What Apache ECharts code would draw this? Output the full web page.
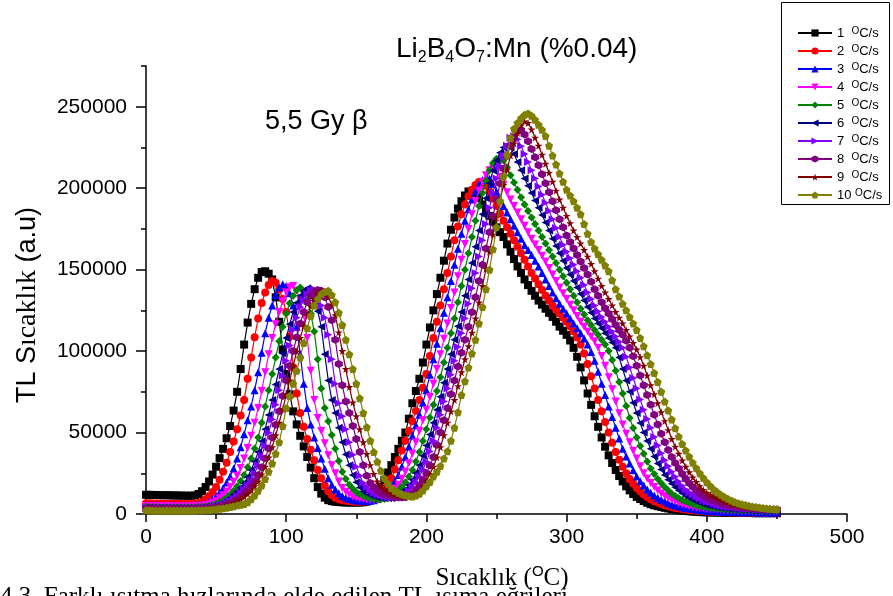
<!DOCTYPE html>
<html>
<head>
<meta charset="utf-8">
<script src="https://cdn.jsdelivr.net/npm/echarts@6/dist/echarts.min.js"></script>
<style>
  html, body { margin: 0; padding: 0; background: #fff; }
  #chart { width: 893px; height: 596px; }
</style>
</head>
<body>
<div id="chart"></div>
<script>
// Temperature sampling grid: 0 … 450 °C every 2.5 °C
const temps = Array.from({ length: 181 }, (_, i) => i * 2.5);

// TL intensity (a.u) for each heating rate, one value per grid step
const tl_1 = [
  11800,11750,11700,11650,11600,11550,11500,11450,11400,11350,11300,11250,11200,11250,11400,12300,14000,16600,20000,24200,
  29000,34300,40000,46500,54000,63500,75000,89000,104000,117500,129000,138000,145000,148500,149000,147500,144000,133000,118000,101000,
  86000,73500,63000,55000,48000,41500,35000,28500,22000,16500,12500,10000,8500,7900,7500,7300,7200,7100,7000,7000,
  7000,7050,7200,7600,8500,10300,13000,16700,21000,25500,30000,35000,40000,45000,50000,58500,68000,75500,83000,93000,
  104000,114500,125000,135000,145000,155500,166000,174500,182000,187500,192000,195500,198000,198300,197000,194000,190000,186500,183000,179500,
  176000,173000,170000,165500,161000,156500,152000,148000,144000,140500,137000,134000,131000,128500,126000,123500,121000,118000,115000,112500,
  110000,106500,102000,96500,90000,82000,74000,67000,60000,53500,47000,41300,36000,31300,27000,23300,20000,17000,14500,12300,
  10500,9200,8000,6900,6000,5300,4800,4300,3800,3400,3000,2700,2400,2100,1900,1700,1500,1350,1200,1100,
  1000,950,900,850,800,750,700,700,700,650,600,600,600,550,500,500,500,500,500,500,
  500];
const tl_2 = [
  6600,6550,6500,6450,6400,6350,6300,6300,6300,6250,6200,6200,6200,6200,6300,6700,7500,9000,11000,13500,
  16500,21000,26000,31500,38000,44500,52000,60500,70000,83000,96000,108500,120000,129500,136000,140500,143000,142000,138000,132000,
  124000,109000,90000,74000,62000,53500,46000,39500,33000,27000,22000,17500,14000,11700,10000,9100,8500,8100,7800,7600,
  7500,7500,7600,7900,8500,9500,11000,13300,16000,18800,22000,27300,33000,39000,45000,51000,57000,63300,70000,77500,
  86000,97000,108000,118000,128000,138000,148000,158000,168000,176500,184000,190000,195000,199000,202000,203800,204000,201500,198000,193500,
  189000,184500,180000,176000,172000,168000,164000,160000,156000,152000,148000,144500,141000,137500,134000,131000,128000,125500,123000,120500,
  118000,115200,112000,108300,104000,98500,92000,84500,77000,70000,63000,56500,50000,43800,38000,33300,29000,25000,21500,18500,
  16000,13900,12000,10400,9000,7900,7000,6100,5300,4700,4200,3700,3300,3000,2700,2400,2200,2000,1800,1650,
  1500,1400,1300,1200,1100,1050,1000,950,900,850,800,800,800,750,700,700,700,700,700,700,
  700];
const tl_3 = [
  5600,5550,5500,5450,5400,5350,5300,5300,5300,5250,5200,5200,5200,5200,5300,5500,5800,6500,7500,9100,
  11000,13300,16000,19300,23000,28000,34000,41000,49000,57500,66000,76000,87000,99000,111000,120500,128000,134500,139000,141000,
  140000,135500,128000,115000,98000,80000,65000,55000,47000,40500,34000,27800,22000,18000,15000,12700,11000,9900,9200,8700,
  8400,8200,8000,8000,8100,8500,9300,10700,12500,14600,17000,20300,24000,29200,35000,41500,48000,54500,61000,68300,
  76000,85500,95000,104500,114000,123500,133000,143000,153000,162800,172000,180000,187000,193000,198000,202000,205000,206500,206000,202500,
  198000,193500,189000,185000,181000,177000,173000,169000,165000,162000,159000,155500,152000,148000,144000,140000,136000,132500,129000,126000,
  123000,120000,117000,114000,111000,107800,104000,99500,94000,87300,80000,73000,66000,59500,53000,46300,40000,35300,31000,26800,
  23000,20100,17500,15100,13000,11400,10000,8800,7800,6800,5900,5200,4700,4200,3700,3300,3000,2700,2400,2200,
  2000,1850,1700,1600,1500,1400,1300,1250,1200,1150,1100,1050,1000,1000,1000,950,900,900,900,900,
  900];
const tl_4 = [
  4900,4850,4800,4750,4700,4700,4700,4650,4600,4600,4600,4600,4600,4600,4700,4800,5000,5400,6000,6900,
  8000,9600,11500,13800,16500,19800,23500,28300,34000,40500,48000,56000,65000,75500,87000,98000,108000,116500,124000,130500,
  136000,139200,140000,137000,131000,122000,108000,88000,70000,59000,51000,43500,36000,30000,25000,20000,16000,13700,12000,10800,
  10000,9400,9000,8700,8600,8500,8600,9100,10000,11500,13500,15600,18000,21700,26000,31200,37000,44000,51000,57500,
  64000,71800,80000,89000,98000,107500,117000,126500,136000,146000,156000,165800,175000,184000,192000,198500,204000,208000,211000,212300,
  211000,206800,202000,197500,193000,189000,185000,181000,177000,173000,169000,165500,162000,158500,155000,151000,147000,143000,139000,135500,
  132000,128500,125000,121500,118000,115000,112000,109000,106000,102000,97000,91000,84000,76500,69000,61800,55000,49300,44000,38800,
  34000,29300,25000,21800,19000,16600,14500,12600,11000,9800,8700,7700,6800,6000,5300,4800,4300,3900,3600,3300,
  3100,2950,2800,2650,2500,2350,2200,2100,2000,1900,1800,1750,1700,1650,1600,1550,1500,1450,1400,1400,
  1400];
const tl_5 = [
  4400,4350,4300,4250,4200,4200,4200,4150,4100,4100,4100,4100,4100,4100,4200,4300,4400,4650,5000,5600,
  6300,7300,8500,10100,12000,14300,17000,20200,24000,28700,34000,40200,47000,56000,66000,76000,86000,96000,106000,115000,
  123000,129300,134000,137300,139000,136500,131000,123000,112000,95000,77000,65000,57000,48500,40000,32500,26000,21500,18000,15500,
  13500,12100,11000,10300,9800,9400,9100,9050,9200,9900,11000,12600,14500,16800,19500,23000,27000,32200,38000,44800,
  52000,59300,67000,75500,84000,93000,102000,111000,120000,130000,140000,150000,160000,170000,180000,189000,197000,204500,211000,215500,
  218000,218500,217000,212800,208000,203500,199000,194500,190000,186000,182000,178000,174000,170000,166000,162000,158000,154000,150000,146000,
  142000,138000,134000,130000,126000,122400,119000,116000,113000,110000,107000,104000,100000,94500,88000,81000,74000,66300,59000,52800,
  47000,41800,37000,32300,28000,24500,21500,18900,16500,14400,12500,11000,9600,8600,7700,6800,6100,5400,4800,4400,
  4100,3850,3600,3350,3100,2950,2800,2650,2500,2400,2300,2200,2100,2050,2000,1950,1900,1850,1800,1800,
  1800];
const tl_6 = [
  4000,3950,3900,3850,3800,3800,3800,3750,3700,3700,3700,3700,3700,3700,3800,3900,4000,4200,4500,4950,
  5500,6300,7200,8500,10000,11900,14000,16300,19000,22700,27000,32200,38000,44700,52000,60800,70000,79500,89000,98500,
  108000,116500,124000,129700,134000,137000,138500,136000,131000,124500,115000,98000,82000,70000,62000,53000,44000,36500,30000,24000,
  19500,16300,14000,12600,11500,10800,10300,9900,9700,9600,9600,10300,11500,13000,15000,17800,21000,25200,30000,35800,
  42000,48800,56000,64000,72000,80500,89000,98000,107000,115300,124000,134000,144000,154000,164000,174000,184000,193800,203000,210800,
  217000,221800,225000,226500,225000,221000,216000,211000,206000,201500,197000,192500,188000,183500,179000,174000,169000,164500,160000,155500,
  151000,147000,143000,139000,135000,131000,127000,123500,120000,117000,114000,111000,108000,105200,102000,96000,89000,82000,75000,68300,
  62000,55800,50000,44800,40000,35300,31000,27300,24000,21100,18500,16400,14500,12700,11000,9800,8800,7900,7000,6200,
  5500,5000,4600,4200,3900,3650,3400,3200,3000,2850,2700,2550,2400,2350,2300,2250,2200,2150,2100,2050,
  2000];
const tl_7 = [
  3700,3650,3600,3550,3500,3500,3500,3450,3400,3400,3400,3400,3400,3400,3500,3600,3700,3800,4000,4350,
  4800,5350,6000,6900,8000,9400,11000,12900,15000,17500,20500,25000,30000,35800,42000,49800,58000,67000,76000,85000,
  94000,103500,113000,120500,127000,131500,135000,137300,138000,134500,128000,120500,110000,95000,80000,68000,60000,52000,44000,36300,
  29000,23500,19000,16500,14500,13100,12000,11300,10800,10400,10200,10100,10200,11100,12500,14300,16500,19500,23000,27300,
  32000,38300,45000,53000,61000,69000,77000,85500,94000,102500,111000,120000,129000,138500,148000,158000,168000,178000,188000,197300,
  206000,213500,220000,226000,231000,231800,230000,225800,221000,216000,211000,206000,201000,196000,191000,186000,181000,175500,170000,165300,
  161000,157000,153000,149000,145000,140500,136000,132000,128000,124300,121000,118000,115000,112000,109000,105800,102000,96500,90000,83500,
  77000,70300,64000,58300,53000,47300,42000,37300,33000,29300,26000,22800,20000,17300,15000,13400,12000,10700,9500,8500,
  7700,7000,6300,5600,5000,4600,4300,4000,3800,3550,3300,3150,3000,2900,2800,2700,2600,2550,2500,2450,
  2400];
const tl_8 = [
  3400,3350,3300,3250,3200,3200,3200,3150,3100,3100,3100,3100,3100,3100,3200,3250,3300,3400,3600,3850,
  4200,4650,5200,5900,6800,7800,9000,10600,12500,14600,17000,20300,24000,28700,34000,40200,47000,54800,63000,72500,
  82000,91000,100000,108500,117000,124000,130000,134000,136500,137500,137000,133000,127000,119000,107000,92000,79000,69000,62000,54000,
  46000,38000,30000,23500,19000,16400,14500,13100,12000,11300,10800,10400,10200,10150,10300,11100,12500,14700,17500,21000,
  25000,29700,35000,42300,50000,57500,65000,73500,82000,90500,99000,107000,115000,123800,133000,143000,153000,163000,173000,183000,
  193000,202800,212000,219800,226000,231200,235000,235700,233000,228800,224000,219000,214000,208500,203000,197500,192000,186500,181000,176000,
  171000,167000,163000,159000,155000,151000,147000,142500,138000,134000,130000,126300,123000,119500,116000,113000,110000,106300,102000,96800,
  91000,85000,79000,73000,67000,61000,55000,49300,44000,39300,35000,31300,28000,24600,21500,18800,16500,14500,12800,11300,
  10000,8900,8000,7300,6600,6000,5400,4950,4600,4300,4000,3800,3600,3450,3300,3150,3000,2900,2800,2750,
  2700];
const tl_9 = [
  3000,2950,2900,2850,2800,2800,2800,2750,2700,2700,2700,2700,2700,2700,2800,2850,2900,3000,3200,3400,
  3700,4050,4500,5100,5800,6700,7800,9100,10500,12300,14500,17100,20000,24300,29000,34700,41000,48300,56000,64300,
  73000,82000,91000,99800,108000,115300,122000,127500,132000,135300,137000,136300,133000,128500,122000,111500,100000,89000,78000,68500,
  60000,52000,44000,36800,30000,24500,20000,17200,15000,13600,12500,11800,11200,10800,10600,10600,11000,12200,14000,16900,
  20500,24500,29000,34700,41000,48300,56000,63000,70000,78500,87000,95000,103000,111300,120000,129800,140000,150500,161000,171500,
  182000,192300,202000,211300,220000,227500,234000,238500,241000,240000,236000,231000,226000,220500,215000,209500,204000,198500,193000,188000,
  183000,178500,174000,170000,166000,162000,158000,153500,149000,144500,140000,136000,132000,128000,124000,120500,117000,113000,109000,105000,
  101000,96300,91000,85000,79000,73500,68000,62500,57000,51500,46000,41300,37000,32800,29000,25600,22500,19600,17000,14800,
  13000,11800,10700,9700,8700,7800,7000,6400,5800,5300,4800,4400,4100,3850,3600,3400,3200,3100,3000,2950,
  2900];
const tl_10 = [
  2300,2250,2200,2200,2200,2150,2100,2100,2100,2100,2100,2100,2100,2150,2200,2250,2300,2400,2500,2700,
  2900,3200,3500,3900,4300,4800,5300,5700,6200,7200,9000,11400,14300,17500,21500,26000,31000,37000,44000,54000,
  65000,72500,80000,88000,96000,105000,114000,121500,128000,132000,135000,136500,137000,134500,130000,123500,116000,107000,98000,89000,
  80000,71000,62000,53300,45000,38000,32000,26500,22000,18700,16000,14300,13000,12100,11500,11000,10800,11300,12500,14500,
  17000,19700,23000,26000,29500,34000,38500,45000,53000,62500,73000,81500,90000,98500,107000,117000,127000,138000,150000,162500,
  176000,192000,207000,220500,231000,236500,240000,243000,245000,245800,244500,242000,239000,235800,232000,226000,220000,214500,209000,204000,
  199000,195500,192000,188000,184000,178000,172000,167000,163000,159500,156000,152500,149000,143500,138000,133500,129000,125000,121000,117000,
  113000,108000,103000,97500,92000,86500,81000,75000,69000,63500,58000,52700,47500,43000,39000,35200,31500,28100,25000,22100,
  19500,17200,15000,13300,11800,10500,9300,8300,7400,6600,6000,5500,5000,4600,4300,4000,3700,3450,3200,3000,
  2800];

const rates = ['1', '2', '3', '4', '5', '6', '7', '8', '9', '10'];
const curves = [tl_1, tl_2, tl_3, tl_4, tl_5, tl_6, tl_7, tl_8, tl_9, tl_10];
const colors = ['#000000', '#ff0000', '#0000ff', '#ff00ff', '#008000',
                '#000080', '#8000ff', '#800080', '#800000', '#808000'];
const symbols = [
  'rect',
  'circle',
  'triangle',
  'path://M0,0 L10,0 L5,10 Z',
  'diamond',
  'path://M10,0 L10,10 L0,5 Z',
  'path://M0,0 L10,5 L0,10 Z',
  'path://M5,0 L9.33,2.5 L9.33,7.5 L5,10 L0.67,7.5 L0.67,2.5 Z',
  'path://M5,0 L6.18,3.6 L10,3.6 L6.9,5.9 L8.1,9.5 L5,7.3 L1.9,9.5 L3.1,5.9 L0,3.6 L3.82,3.6 Z',
  'path://M5,0 L10,3.8 L8.1,10 L1.9,10 L0,3.8 Z'
];
const yMajor = [0, 50000, 100000, 150000, 200000, 250000];

const SANS = 'Liberation Sans, Arial, sans-serif';
const SERIF = 'Liberation Serif, Times New Roman, serif';

const series = curves.map((vals, i) => ({
  name: rates[i],
  type: 'line',
  data: temps.map((t, j) => [t, vals[j]]),
  symbol: symbols[i],
  symbolSize: 8,
  showSymbol: true,
  showAllSymbol: true,
  lineStyle: { color: colors[i], width: 1.2 },
  itemStyle: { color: colors[i] },
  z: 2 + i,
  animation: false
}));

const chart = echarts.init(document.getElementById('chart'), null, { renderer: 'canvas' });

chart.setOption({
  animation: false,
  backgroundColor: '#ffffff',
  grid: { left: 146, right: 46, top: 66, bottom: 82 },
  xAxis: {
    type: 'value',
    min: 0, max: 500, interval: 100,
    axisLine: { show: true, lineStyle: { color: '#000', width: 1.5 } },
    axisTick: { show: true, inside: false, length: 8, lineStyle: { color: '#000', width: 1.5 } },
    minorTick: { show: true, splitNumber: 2, length: 5, lineStyle: { color: '#000', width: 1.5 } },
    splitLine: { show: false },
    axisLabel: { color: '#000', fontSize: 21, fontFamily: SANS, margin: 13 }
  },
  yAxis: [{
    type: 'value',
    min: 0, max: 275000, interval: 25000,
    axisLine: { show: true, lineStyle: { color: '#000', width: 1.5 } },
    axisTick: { show: true, inside: false, length: 5, lineStyle: { color: '#000', width: 1.5 } },
    splitLine: { show: false },
    axisLabel: {
      color: '#000', fontSize: 21, fontFamily: SANS, margin: 19,
      formatter: v => (v % 50000 === 0 && v <= 250000) ? String(v) : ''
    }
  }, {
    type: 'value',
    position: 'left',
    min: 0, max: 275000, interval: 50000,
    axisLine: { show: false },
    axisTick: { show: true, inside: false, length: 10, customValues: yMajor,
                lineStyle: { color: '#000', width: 1.5 } },
    axisLabel: { show: false },
    splitLine: { show: false }
  }],
  legend: {
    orient: 'vertical',
    left: 797, top: 26,
    padding: 0,
    itemWidth: 34, itemHeight: 9, itemGap: 4,
    data: rates,
    formatter: name => '{n|' + name + (name.length > 1 ? ' ' : '  ') + '}{o|O}{n|C/s}',
    textStyle: {
      color: '#000',
      fontFamily: SANS,
      rich: {
        n: { fontSize: 13, fontFamily: SANS, color: '#000', lineHeight: 14, verticalAlign: 'bottom' },
        o: { fontSize: 10, fontFamily: SANS, color: '#000', lineHeight: 10, verticalAlign: 'top' }
      }
    }
  },
  graphic: [
    {
      type: 'rect', silent: true,
      shape: { x: 781.5, y: 2.5, width: 108, height: 202 },
      style: { fill: 'none', stroke: '#000', lineWidth: 1 }
    },
    {
      type: 'text', x: 396, y: 49, silent: true,
      style: {
        text: '{a|Li}{s|2}{a|B}{s|4}{a|O}{s|7}{a|:Mn (%0.04)}',
        verticalAlign: 'middle',
        rich: {
          a: { fontSize: 28, fontFamily: SANS, fill: '#000', lineHeight: 34, verticalAlign: 'middle' },
          s: { fontSize: 16, fontFamily: SANS, fill: '#000', lineHeight: 16, verticalAlign: 'bottom' }
        }
      }
    },
    {
      type: 'text', x: 265, y: 122, silent: true,
      style: { text: '5,5 Gy \u03B2', font: '27px ' + SANS, fill: '#000', verticalAlign: 'middle' }
    },
    {
      type: 'text', x: 502, y: 578, silent: true,
      style: {
        text: '{a|S\u0131cakl\u0131k (}{o|O}{a|C)}',
        align: 'center', verticalAlign: 'middle',
        rich: {
          a: { fontSize: 25, fontFamily: SERIF, fill: '#000', lineHeight: 28, verticalAlign: 'middle' },
          o: { fontSize: 15, fontFamily: SANS, fill: '#000', lineHeight: 15, verticalAlign: 'top' }
        }
      }
    },
    {
      type: 'text', x: 28, y: 305, rotation: Math.PI / 2, silent: true,
      style: {
        text: '{a|TL S}{b|\u0131cakl\u0131k}{a| (a.u)}',
        align: 'center', verticalAlign: 'middle',
        rich: {
          a: { fontSize: 27, fontFamily: SANS, fill: '#000', lineHeight: 30 },
          b: { fontSize: 28, fontFamily: SERIF, fill: '#000', lineHeight: 30 }
        }
      }
    },
    {
      type: 'text', x: 0, y: 597, silent: true,
      style: {
        text: '4.3. Farkl\u0131 \u0131s\u0131tma h\u0131zlar\u0131nda elde edilen TL \u0131\u015F\u0131ma e\u011Frileri',
        font: '25px ' + SERIF, fill: '#000', verticalAlign: 'middle'
      }
    }
  ],
  series: series
});
</script>
</body>
</html>
